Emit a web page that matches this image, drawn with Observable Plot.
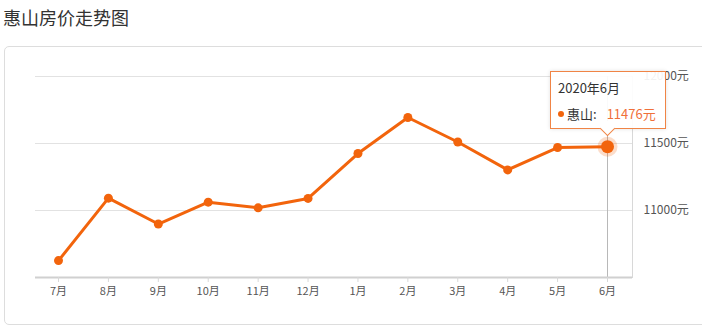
<!DOCTYPE html>
<html><head><meta charset="utf-8">
<script src="https://cdn.jsdelivr.net/npm/d3@7"></script>
<script src="https://cdn.jsdelivr.net/npm/@observablehq/plot@0.6"></script>
<style>
body{margin:0;background:#fff;font-family:"Noto Sans CJK SC","Noto Sans",sans-serif;}
#wrap{position:relative;width:702px;height:328px;overflow:hidden}
#title{position:absolute;left:3px;top:4px;font-size:18px;color:#333;line-height:26px}
#box{position:absolute;left:4px;top:46px;width:730px;height:279px;border:1px solid #ddd;border-radius:5px;box-sizing:border-box}
#chart{position:absolute;left:0;top:0}
#tip{position:absolute;width:116px;height:58px;box-sizing:border-box;border:1px solid #f08445;background:rgba(255,255,255,0.92);box-shadow:0 0 4px rgba(0,0,0,0.12);font-size:13px;color:#333}
#tip .t1{position:absolute;left:7px;top:8px;line-height:16px}
#tip .t2{position:absolute;left:7px;top:34px;line-height:16px;white-space:nowrap}
#tip .dot{display:inline-block;width:6px;height:6px;border-radius:3px;margin-right:3px;vertical-align:2px}
#tip .v{margin-left:10px}
#tip .arrow{position:absolute;left:51px;bottom:-6px;width:10px;height:10px;background:#fff;border-right:1px solid #f08445;border-bottom:1px solid #f08445;transform:rotate(45deg);transform-origin:center;}
</style></head>
<body>
<div id="wrap">
  <div id="box"></div>
  <div id="title"></div>
  <div id="chart"></div>
</div>
<script>
const titleText = "惠山房价走势图";
const seriesName = "惠山";
const tipPeriod = "2020年6月";
const months = ["7月","8月","9月","10月","11月","12月","1月","2月","3月","4月","5月","6月"];
const prices = [10626,11092,10899,11062,11020,11090,11425,11694,11511,11303,11470,11476];
const yTicks = [11000,11500,12000];
const yDomain = [10500,12000];
const unit = "元";

const C = "#f2640c";
const data = months.map((m,i)=>({month:m, price:prices[i]}));
const last = data[data.length-1];

document.getElementById("title").textContent = titleText;

const plot = Plot.plot({
  width:702, height:328,
  marginLeft:35, marginRight:70, marginTop:76, marginBottom:51,
  style:{fontFamily:'"Noto Sans CJK SC","Noto Sans",sans-serif', fontSize:"11px", color:"#555", background:"transparent", overflow:"visible"},
  x:{type:"point", domain:months, range:[58,607], padding:0, round:false, label:null},
  y:{domain:yDomain, label:null},
  marks:[
    Plot.ruleY(yTicks,{stroke:"#e2e2e2"}),
    Plot.frame({anchor:"right", stroke:"#d8d8d8"}),
    Plot.ruleX([last],{x:"month", y1:yDomain[0], y2:yDomain[1], stroke:"#b8b8b8"}),
    Plot.ruleY([yDomain[0]],{stroke:"#d0d0d0", strokeWidth:2}),
    Plot.axisX({tickSize:5, tickPadding:5, stroke:"#d8d8d8", fill:"#555", label:null}),
    Plot.axisY({anchor:"right", ticks:yTicks, tickSize:0, tickPadding:11, tickFormat:d=>d+unit, fill:"#555", fontSize:12, label:null}),
    Plot.line(data,{x:"month", y:"price", stroke:C, strokeWidth:3}),
    Plot.dot(data,{x:"month", y:"price", r:4.5, fill:C}),
    Plot.dot([last],{x:"month", y:"price", r:10, fill:C, fillOpacity:0.22}),
    Plot.dot([last],{x:"month", y:"price", r:6.5, fill:C})
  ]
});
document.getElementById("chart").appendChild(plot);

// tooltip anchored at the highlighted point through the plot's scales
const px = plot.scale("x").apply(last.month);
const py = plot.scale("y").apply(last.price);
const tip = document.createElement("div");
tip.id = "tip";
tip.style.left = (px - 57) + "px";
tip.style.top = (py - 75) + "px";
tip.innerHTML = `<div class="t1">${tipPeriod}</div>
<div class="t2"><span class="dot" style="background:${C}"></span>${seriesName}:<span class="v" style="color:#f0703a">${last.price}${unit}</span></div>
<div class="arrow"></div>`;
document.getElementById("wrap").appendChild(tip);
</script>
</body></html>
